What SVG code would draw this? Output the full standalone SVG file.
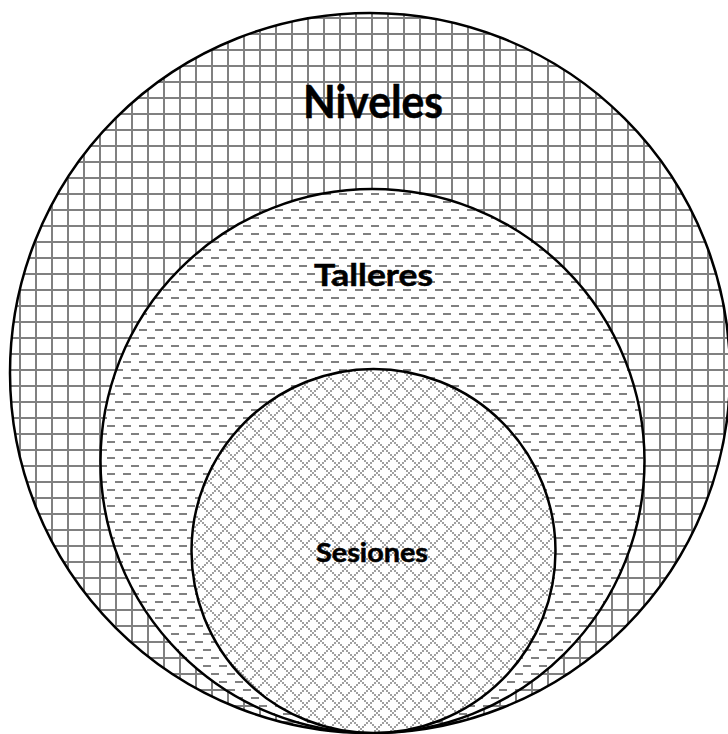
<svg xmlns="http://www.w3.org/2000/svg" width="728" height="734" viewBox="0 0 728 734">
  <defs>
    <pattern id="grid" patternUnits="userSpaceOnUse" x="3" y="1" width="16" height="16">
      <rect width="16" height="16" fill="#ffffff"/>
      <rect x="0" y="0" width="2" height="16" fill="#808080"/>
      <rect x="0" y="0" width="16" height="2" fill="#808080"/>
    </pattern>
    <pattern id="dash" patternUnits="userSpaceOnUse" x="3" y="1" width="16" height="16">
      <rect width="16" height="16" fill="#ffffff"/>
      <rect x="0" y="0" width="8" height="2" fill="#808080"/>
      <rect x="8" y="8" width="8" height="2" fill="#808080"/>
    </pattern>
    <pattern id="diamond" patternUnits="userSpaceOnUse" x="0" y="0" width="16" height="16" shape-rendering="crispEdges">
      <rect width="16" height="16" fill="#ffffff"/>
      <g fill="#a0a0a0">
        <rect x="0" y="0" width="2" height="2"/>
        <rect x="2" y="2" width="2" height="2"/><rect x="14" y="2" width="2" height="2"/>
        <rect x="4" y="4" width="2" height="2"/><rect x="12" y="4" width="2" height="2"/>
        <rect x="6" y="6" width="2" height="2"/><rect x="10" y="6" width="2" height="2"/>
        <rect x="8" y="8" width="2" height="2"/>
        <rect x="10" y="10" width="2" height="2"/><rect x="6" y="10" width="2" height="2"/>
        <rect x="12" y="12" width="2" height="2"/><rect x="4" y="12" width="2" height="2"/>
        <rect x="14" y="14" width="2" height="2"/><rect x="2" y="14" width="2" height="2"/>
      </g>
    </pattern>
    <style>
      .ring { stroke: #000000; stroke-width: 2.5; }
      .lbl { font-family: Lato, "Open Sans", "Liberation Sans", sans-serif; font-weight: bold; fill: #000000; stroke: #000000; stroke-width: 0.5; text-anchor: middle; }
    </style>
  </defs>
  <rect width="728" height="734" fill="#ffffff"/>
  <g id="niveles">
    <circle class="ring" cx="370" cy="373" r="360" fill="url(#grid)"/>
    <text class="lbl" x="373" y="118" font-size="46" textLength="140" lengthAdjust="spacingAndGlyphs">Niveles</text>
  </g>
  <g id="talleres">
    <circle class="ring" cx="372.5" cy="461" r="272" fill="url(#dash)"/>
    <text class="lbl" x="373.5" y="286" font-size="30" textLength="119" lengthAdjust="spacingAndGlyphs">Talleres</text>
  </g>
  <g id="sesiones">
    <circle class="ring" cx="373.5" cy="551" r="182" fill="url(#diamond)"/>
    <text class="lbl" x="372" y="562" font-size="26" textLength="112" lengthAdjust="spacingAndGlyphs">Sesiones</text>
  </g>
</svg>
